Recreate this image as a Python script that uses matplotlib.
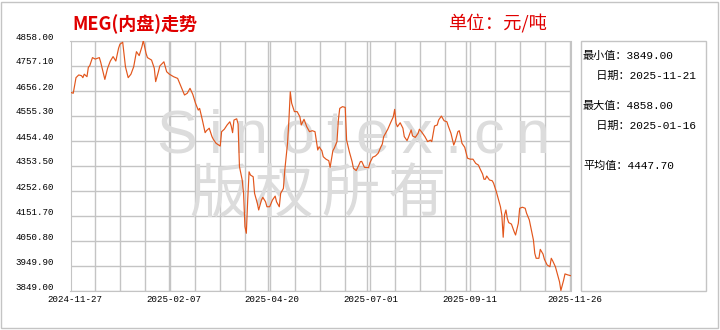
"""MEG(内盘)走势图。"""

import matplotlib

matplotlib.use("Agg")
import matplotlib.dates as mdates
import matplotlib.pyplot as plt
import matplotlib.transforms as mtransforms
import numpy as np
from matplotlib.patches import Rectangle

start_date = np.datetime64("2024-11-27")
end_date = np.datetime64("2025-11-26")

# 交易日相对起始日的天数及价格（元/吨）
day_offsets = [
    0, 2, 4, 6, 8, 9, 10, 12, 13, 14, 16, 18, 21, 22, 25, 27, 29, 31, 33, 35,
    36, 38, 40, 42, 44, 46, 48, 50, 52, 53, 55, 56, 59, 61, 62, 64, 65, 68, 70, 72,
    75, 78, 81, 83, 85, 87, 89, 91, 93, 94, 96, 98, 99, 101, 103, 104, 106, 109, 110, 112,
    114, 116, 117, 118, 119, 121, 122, 123, 125, 126, 127, 128, 129, 130, 131, 133, 134, 136, 137, 139,
    140, 142, 143, 145, 147, 149, 150, 152, 153, 155, 156, 158, 159, 160, 161, 163, 165, 167, 168, 170,
    172, 174, 176, 178, 180, 181, 183, 184, 186, 188, 189, 191, 192, 194, 195, 196, 198, 200, 201, 203,
    205, 206, 208, 210, 211, 212, 214, 217, 218, 220, 222, 224, 226, 227, 228, 230, 231, 233, 235, 236,
    237, 238, 240, 242, 243, 245, 246, 248, 249, 251, 253, 254, 256, 258, 260, 262, 263, 265, 267, 268,
    270, 272, 274, 275, 277, 279, 280, 282, 283, 284, 285, 287, 288, 289, 291, 293, 295, 297, 298, 300,
    301, 302, 303, 305, 307, 308, 310, 311, 312, 313, 314, 315, 316, 317, 318, 319, 320, 321, 323, 324,
    326, 327, 329, 331, 332, 334, 335, 337, 338, 339, 341, 342, 344, 345, 347, 349, 350, 351, 353, 354,
    356, 357, 359, 360, 362, 364,
]
prices = [
    4649, 4645, 4708, 4719, 4716, 4708, 4722, 4712, 4750, 4756, 4789, 4783, 4789, 4770, 4701, 4746, 4775, 4793, 4775, 4827,
    4843, 4851, 4752, 4708, 4722, 4752, 4813, 4797, 4833, 4858, 4806, 4789, 4779, 4746, 4692, 4732, 4755, 4772, 4732, 4722,
    4712, 4705, 4665, 4638, 4645, 4665, 4641, 4605, 4577, 4584, 4537, 4486, 4494, 4504, 4470, 4459, 4443, 4432, 4490, 4500,
    4517, 4530, 4513, 4486, 4537, 4542, 4521, 4349, 4295, 4241, 4107, 4080, 4214, 4328, 4315, 4308, 4241, 4201, 4174, 4214,
    4225, 4207, 4187, 4187, 4214, 4230, 4207, 4187, 4241, 4261, 4335, 4443, 4537, 4651, 4605, 4571, 4571, 4550, 4517, 4540,
    4510, 4490, 4494, 4490, 4416, 4429, 4413, 4389, 4379, 4373, 4346, 4413, 4423, 4450, 4537, 4584, 4591, 4588, 4456, 4409,
    4369, 4342, 4333, 4356, 4369, 4370, 4346, 4345, 4365, 4387, 4392, 4403, 4429, 4440, 4470, 4490, 4500, 4526, 4550, 4580,
    4524, 4510, 4526, 4504, 4470, 4454, 4467, 4497, 4473, 4467, 4483, 4500, 4486, 4470, 4450, 4456, 4450, 4513, 4517, 4537,
    4553, 4534, 4530, 4513, 4483, 4436, 4450, 4490, 4494, 4470, 4443, 4427, 4405, 4383, 4379, 4379, 4362, 4355, 4342, 4319,
    4298, 4298, 4311, 4295, 4292, 4282, 4248, 4228, 4207, 4187, 4154, 4064, 4154, 4174, 4140, 4123, 4120, 4117, 4086, 4073,
    4120, 4181, 4185, 4181, 4161, 4134, 4107, 4053, 3999, 3979, 3979, 4015, 3996, 3975, 3952, 3945, 3979, 3969, 3945, 3925,
    3884, 3849, 3891, 3916, 3912, 3909,
]

y_ticks = [3849.00, 3949.90, 4050.80, 4151.70, 4252.60, 4353.50, 4454.40, 4555.30, 4656.20, 4757.10, 4858.00]
x_tick_labels = ["2024-11-27", "2025-02-07", "2025-04-20", "2025-07-01", "2025-09-11", "2025-11-26"]

title = "MEG(内盘)走势"
unit = "单位：元/吨"
stat_lines = ["最小值：3849.00", "  日期：2025-11-21", "最大值：4858.00", "  日期：2025-01-16", "平均值：4447.70"]

RED = "#e00000"
LINE = "#e2561c"
GRID = "#c4c4c4"
WM = "#dcdcdc"
NUM_FONT = ["Liberation Mono", "Noto Sans CJK SC"]

W, H = 720, 330
fig = plt.figure(figsize=(W / 100, H / 100), dpi=100)
ax = fig.add_axes([70.5 / W, 39.5 / H, 500 / W, 250 / H])
px = mtransforms.IdentityTransform()

dates = start_date + np.array(day_offsets).astype("timedelta64[D]")
ax.plot(dates, prices, color=LINE, lw=0.85, zorder=3)

x0 = mdates.date2num(start_date)
x1 = mdates.date2num(end_date)
ax.set_xlim(x0, x1)
ax.set_ylim(y_ticks[0], y_ticks[-1])

ax.set_xticks(mdates.date2num(np.array(x_tick_labels, dtype="datetime64[D]")))
ax.set_xticklabels(x_tick_labels, fontsize=6.6, family=NUM_FONT)
ax.set_xticks(np.linspace(x0, x1, 21), minor=True)
ax.set_yticks(y_ticks)
ax.set_yticklabels([f"{v:.2f}" for v in y_ticks], fontsize=6.6, family=NUM_FONT)
ax.tick_params(which="both", length=0)
ax.tick_params(axis="y", pad=12)
ax.tick_params(axis="x", pad=3)
ax.set_axisbelow(True)
ax.grid(which="both", color=GRID, lw=1)
for sp in ax.spines.values():
    sp.set_color(GRID)

for lab in ax.get_xticklabels():
    lab.set_transform(lab.get_transform() + mtransforms.ScaledTranslation(0.04, 0, fig.dpi_scale_trans))
for lab in ax.get_yticklabels():
    lab.set_transform(lab.get_transform() + mtransforms.ScaledTranslation(0, 0.045, fig.dpi_scale_trans))

# 水印
renderer = fig.canvas.get_renderer()


def spaced_text(s, x, y, gap, **kw):
    for ch in s:
        t = ax.text(x, H - y, ch, transform=px, color=WM, zorder=1, **kw)
        x += t.get_window_extent(renderer).width + gap


spaced_text("Sinotex.cn", 156, 153, 12, fontsize=44, family="Liberation Sans", va="baseline")
spaced_text("版权所有", 189, 195, 8, fontsize=42, family="Noto Sans CJK SC", va="center")

# 标题
fig.text(72, H - 24, title, transform=px, color=RED, fontsize=13, fontweight="bold",
         family="Noto Sans CJK SC", va="center")
fig.text(448, H - 24, unit, transform=px, color=RED, fontsize=13.2,
         family="Noto Sans CJK SC", va="center")

# 统计面板
fig.add_artist(Rectangle((580.5, H - 290.5), 125, 250, transform=px, fill=False, ec=GRID, lw=1))
for text, y in zip(stat_lines, [56, 76, 106, 126, 166]):
    fig.text(583, H - y, text, transform=px, fontsize=8, family=NUM_FONT, va="center")

fig.add_artist(Rectangle((1, 2), W - 3, H - 4, transform=px, fill=False, ec=GRID, lw=1))

fig.savefig("out.png", dpi=100)
plt.close(fig)
